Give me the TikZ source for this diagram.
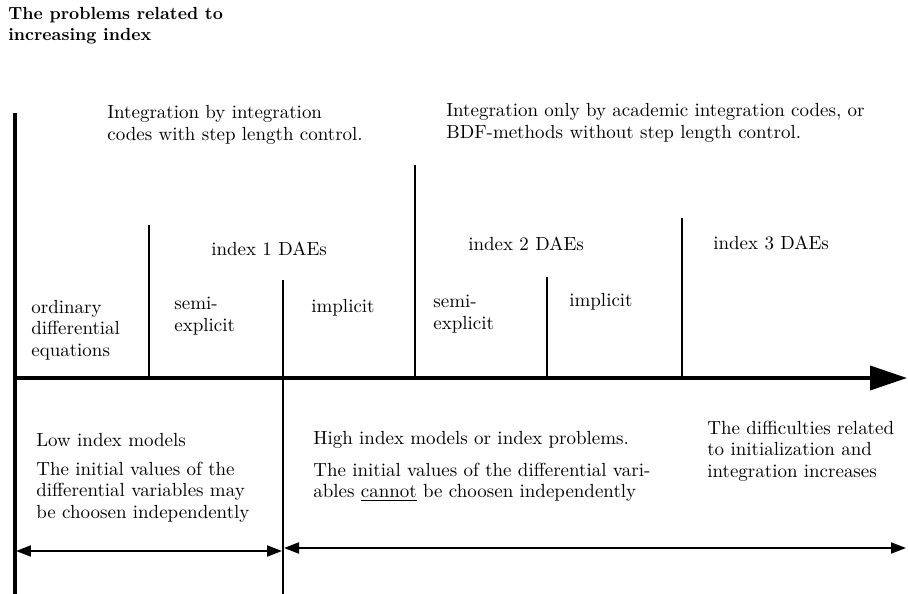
\documentclass[tikz,border=0pt]{standalone}
\usepackage{tikz}
\usetikzlibrary{positioning, arrows.meta}

\begin{document}
\begin{tikzpicture}[
        x=0.02cm, y=-0.02cm,
        every node/.style={anchor=west, align=left, inner sep=0pt, font=\fontsize{10.8}{12.2}\selectfont},
        axisline/.style={line width=2.2pt},
        tickline/.style={line width=1.1pt},
        spanarrow/.style={line width=1.1pt, {Triangle[length=3mm,width=2.2mm]}-{Triangle[length=3mm,width=2.2mm]}}
    ]
    \useasboundingbox (0,0) rectangle (908,594);

    % Coordinates for the axis and the separators
    \coordinate (origin) at (15,378);
    \coordinate (axisend) at (907,378);
    \coordinate (maintop) at (15,113);
    \coordinate (mainbottom) at (15,594);
    \coordinate (odetop) at (149,225);
    \coordinate (odebottom) at (149,378);
    \coordinate (lowtop) at (283,280);
    \coordinate (lowbottom) at (283,594);
    \coordinate (idxtwotop) at (415,165);
    \coordinate (idxtwobottom) at (415,378);
    \coordinate (impltop) at (547,277);
    \coordinate (implbottom) at (547,378);
    \coordinate (idxthreetop) at (682,218);
    \coordinate (idxthreebottom) at (682,378);
    \coordinate (lowleft) at (16,551);
    \coordinate (lowright) at (282,551);
    \coordinate (highleft) at (284,548);
    \coordinate (highright) at (906,548);

    % Texts
    \node (title) [font=\fontsize{10}{12}\bfseries] at (8,26) {The problems related to\\increasing index};
    \node (stepctrl) at (107,125) {Integration by integration\\codes with step length control.};
    \node (nostepctrl) at (446,123) {Integration only by academic integration codes, or\\BDF-methods without step length control.};
    \node (indexone) at (211,249) {index 1 DAEs};
    \node (indextwo) at (468,244) {index 2 DAEs};
    \node (indexthree) at (713,243) {index 3 DAEs};
    \node (ode) at (31,330) {ordinary\\differential\\equations};
    \node (semione) at (174,316) {semi-\\explicit};
    \node (implone) at (311,308) {implicit};
    \node (semitwo) at (433,314) {semi-\\explicit};
    \node (impltwo) at (569,302) {implicit};
    \node (lowidx) at (36,440) {Low index models};
    \node (lowinit) at (36,492) {The initial values of the\\differential variables may\\be choosen independently};
    \node (highidx) at (313,440) {High index models or index problems.};
    \node (highinit) at (313,482) {The initial values of the differential vari-\\ables \underline{cannot} be choosen independently};
    \node (difficult) at (707,451) {The difficulties related\\to initialization and\\integration increases};

    % Lines and arrows
    \draw[axisline] (maintop) -- (mainbottom);
    \draw[axisline, -{Triangle[length=7.4mm,width=4.8mm]}] (origin) -- (axisend);
    \draw[tickline] (odetop) -- (odebottom);
    \draw[tickline] (lowtop) -- (lowbottom);
    \draw[tickline] (idxtwotop) -- (idxtwobottom);
    \draw[tickline] (impltop) -- (implbottom);
    \draw[tickline] (idxthreetop) -- (idxthreebottom);
    \draw[spanarrow] (lowleft) -- (lowright);
    \draw[spanarrow] (highleft) -- (highright);
\end{tikzpicture}
\end{document}
